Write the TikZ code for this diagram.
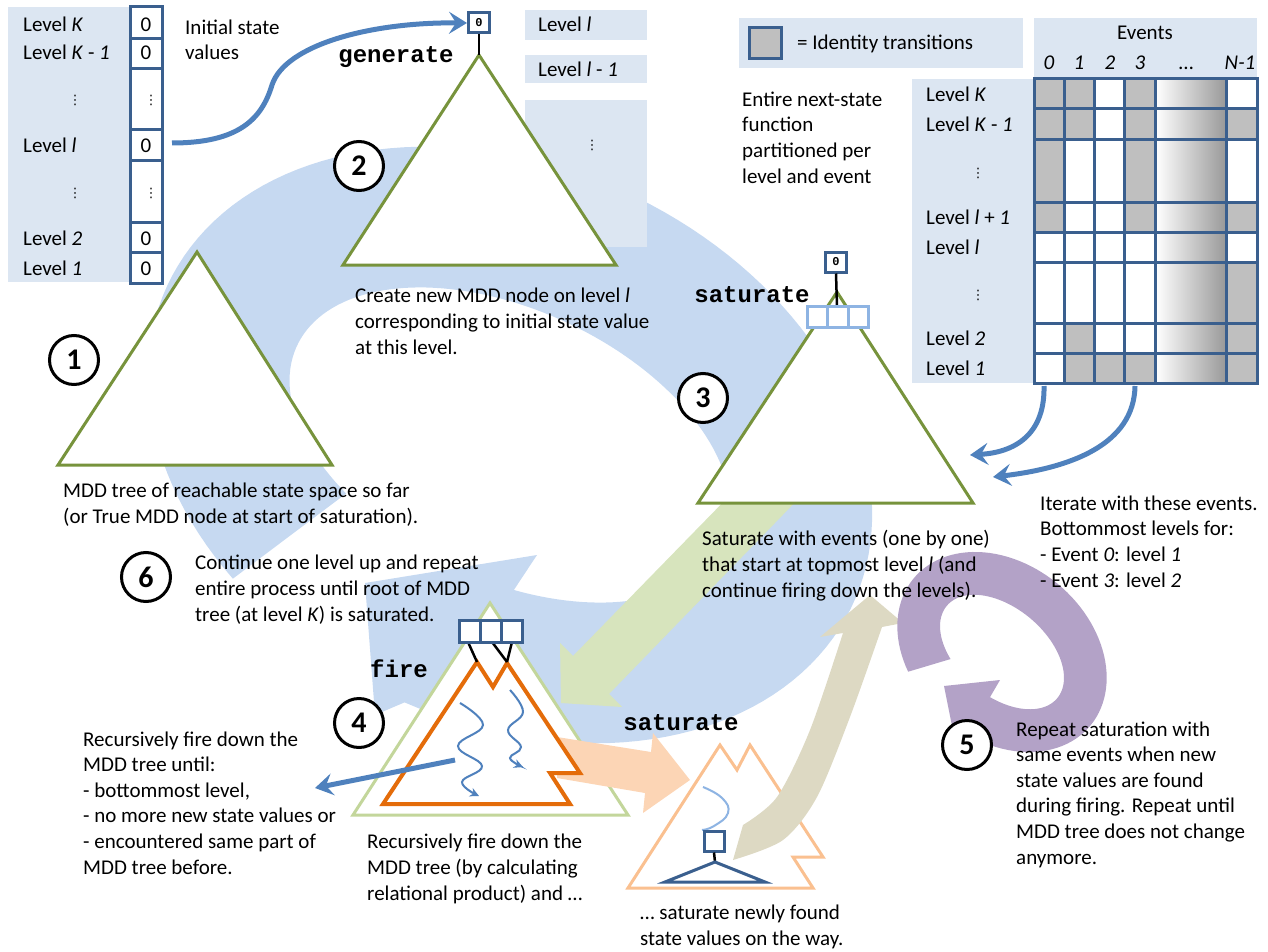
\documentclass[tikz,border=0pt]{standalone}
\usepackage{fontspec}
\setmainfont{Carlito}
\newfontfamily\codefont{Liberation Mono}
\newfontfamily\dotsfont{DejaVu Sans}
\usetikzlibrary{arrows.meta}

\definecolor{ringblue}{HTML}{C6D9F1}
\definecolor{panel}{HTML}{DCE6F2}
\definecolor{boxblue}{HTML}{3A5F8E}
\definecolor{arrowblue}{HTML}{4F81BD}
\definecolor{treegreen}{HTML}{77933C}
\definecolor{palegreen}{HTML}{C3D69B}
\definecolor{arrowgreen}{HTML}{D7E4BD}
\definecolor{fireorange}{HTML}{E46C0A}
\definecolor{lightorange}{HTML}{FAC090}
\definecolor{peach}{HTML}{FCD5B5}
\definecolor{tanc}{HTML}{DDD9C3}
\definecolor{lilac}{HTML}{B3A2C7}
\definecolor{cellblue}{HTML}{8EB4E3}
\definecolor{idgray}{HTML}{BFBFBF}

\begin{document}
\begin{tikzpicture}[x=1pt,y=-1pt,
  % multi-line texts are anchored at the baseline of their last line
  txt/.style={font=\fontsize{21}{25.6}\selectfont, align=left, inner sep=0pt, anchor=base west},
  lbl/.style={font=\fontsize{21}{24}\selectfont, inner sep=0pt, anchor=base west},
  val/.style={font=\fontsize{21}{24}\selectfont, inner sep=0pt, anchor=base},
  vdot/.style={font=\dotsfont\fontsize{13}{13}\selectfont, inner sep=0pt},
  codelbl/.style={font=\codefont\bfseries\fontsize{24}{24}\selectfont, inner sep=0pt},
  stepnum/.style={circle, draw=black, line width=3pt, fill=white, minimum size=49pt, inner sep=0pt, font=\bfseries\fontsize{30}{30}\selectfont},
  tree/.style={draw=treegreen, line width=3pt, fill=white, line join=miter},
  valbox/.style={draw=boxblue, line width=3pt, fill=white, minimum width=21pt, minimum height=20pt, inner sep=0pt, font=\codefont\bfseries\fontsize{12}{12}\selectfont},
  flow/.style={arrowblue, line width=5pt, -{Stealth[length=18pt,width=22pt,inset=7pt]}},
  squig/.style={arrowblue, line width=2pt, -{Stealth[length=9pt,width=9pt,inset=3pt]}},
  grid/.style={boxblue, line width=3pt},
]
\useasboundingbox (0,0) rectangle (1268,952);

% ---- big circular arrow of the whole saturation loop ----
\fill[ringblue]
  plot[domain=121:448, samples=140]
    ({510+378*cos(\x)*cos(25)-278*sin(\x)*sin(25)},{445+378*cos(\x)*sin(25)+278*sin(\x)*cos(25)})
  -- (375,715) -- (365,583) -- (537,555)
  -- plot[domain=123:434, samples=140]
    ({510+235*cos(557-\x)*cos(25)-135*sin(557-\x)*sin(25)},{445+235*cos(557-\x)*sin(25)+135*sin(557-\x)*cos(25)})
  -- cycle;

% ---- level list with initial state values ----
\fill[panel] (8,7) rectangle (162,282);
\draw[grid, fill=white] (130,7) rectangle (162,283);
\foreach \yy in {39,69,130,161,222,252} \draw[grid] (130,\yy) -- (162,\yy);
\node[lbl] (lvK)  at (23,32)  {Level \textit{K}};
\node[lbl] (lvK1) at (23,60)  {Level \textit{K} - \textit{1}};
\node[vdot] (lvd1) at (75,100) {⋮};
\node[lbl] (lvl)  at (23,153) {Level \textit{l}};
\node[vdot] (lvd2) at (75,193) {⋮};
\node[lbl] (lv2)  at (23,245) {Level \textit{2}};
\node[lbl] (lv1)  at (23,275) {Level \textit{1}};
\node[val] (vK)  at (146,32)  {0};
\node[val] (vK1) at (146,60)  {0};
\node[vdot] (vd1) at (151,100) {⋮};
\node[val] (vl)  at (146,153) {0};
\node[vdot] (vd2) at (151,193) {⋮};
\node[val] (v2)  at (146,245) {0};
\node[val] (v1)  at (146,275) {0};
\node[txt] (init) at (185,60) {Initial state\\values};

% ---- level panels beside the generated node ----
\fill[panel] (525,10) rectangle (647,40);
\fill[panel] (525,55) rectangle (647,83);
\fill[panel] (525,100) rectangle (647,247);
\node[lbl] (pl)  at (538,32) {Level \textit{l}};
\node[lbl] (pl1) at (538,77) {Level \textit{l} - \textit{1}};
\node[vdot] (pld) at (592,145) {⋮};

% ---- next-state function table ----
\fill[panel] (739,18) rectangle (1023,68);
\draw[grid, fill=idgray] (749,28) rectangle (781,59);
\node[lbl] (legend) at (797,50) {= Identity transitions};
\fill[panel] (1034,18) rectangle (1257,79);
\fill[panel] (912,79) rectangle (1034,383);
\node[val] (events) at (1145,40) {Events};
\node[val] (e0) at (1049,70) {\textit{0}};
\node[val] (e1) at (1079,70) {\textit{1}};
\node[val] (e2) at (1110,70) {\textit{2}};
\node[val] (e3) at (1140,70) {\textit{3}};
\node[val] (edots) at (1186,70) {\dots};
\node[val] (eN) at (1240,70) {\textit{N-1}};
\node[lbl] (rK)  at (926,102) {Level \textit{K}};
\node[lbl] (rK1) at (926,132) {Level \textit{K} - \textit{1}};
\node[vdot] (rd1) at (978,173) {⋮};
\node[lbl] (rl1) at (926,224) {Level \textit{l} + \textit{1}};
\node[lbl] (rl)  at (926,254) {Level \textit{l}};
\node[vdot] (rd2) at (978,295) {⋮};
\node[lbl] (r2)  at (926,345) {Level \textit{2}};
\node[lbl] (r1)  at (926,375) {Level \textit{1}};
\fill[white] (1034,79) rectangle (1257,383);
\foreach \c/\r in {0/0,1/0,3/0, 0/1,1/1,3/1,5/1, 0/2,3/2, 0/3,3/3,5/3, 5/5, 1/6,5/6, 1/7,2/7,3/7,5/7}{
  \pgfmathsetmacro\xa{{1034,1064,1094.5,1124.6,1155.5,1226,1257}[\c]}
  \pgfmathsetmacro\xb{{1034,1064,1094.5,1124.6,1155.5,1226,1257}[\c+1]}
  \pgfmathsetmacro\ya{{79,109,140,202,232,262,323,353,383}[\r]}
  \pgfmathsetmacro\yb{{79,109,140,202,232,262,323,353,383}[\r+1]}
  \fill[idgray] (\xa,\ya) rectangle (\xb,\yb);
}
\shade[left color=white, right color=black!40] (1155.5,79) rectangle (1226,383);
\draw[grid] (1034,79) rectangle (1257,383);
\foreach \xx in {1064,1094.5,1124.6,1155.5,1226} \draw[grid] (\xx,79) -- (\xx,383);
\foreach \yy in {109,140,202,232,262,323,353} \draw[grid] (1034,\yy) -- (1257,\yy);
\node[txt] (entire) at (742,183) {Entire next-state\\function\\partitioned per\\level and event};

% ---- green arrow: saturate hands over to fire ----
\fill[arrowgreen] (735,490) -- (573,656) -- (560,643) -- (561,703) -- (622,707) -- (609,694) -- (807,490) -- cycle;

% ---- step 1: current MDD ----
\draw[tree] (197,252) -- (332,465) -- (58,465) -- cycle;

% ---- step 2: generate ----
\draw[tree] (479,55) -- (616,265) -- (343,265) -- cycle;
\coordinate (apex2) at (479,55);
\node[valbox] (gen0) at (479,23) {0};
\draw[line width=2.5pt] (gen0.south) -- (apex2);
\node[codelbl] (gen) at (396,57) {generate};

% ---- step 3: saturate ----
\draw[tree] (837,292) -- (973,503) -- (698,503) -- cycle;
\node[valbox] (sat0) at (836,262) {0};
\coordinate (sattop) at (837,307);
\draw[line width=2.5pt] (sat0.south) -- (sattop);
\draw[cellblue, line width=3pt, fill=white] (807,306) rectangle (868,327);
\draw[cellblue, line width=3pt] (827,306) -- (827,327) (848,306) -- (848,327);
\node[codelbl] (sat) at (752,295) {saturate};

% ---- step 4: fire ----
\draw[palegreen, line width=3pt, fill=white, line join=miter] (490,603) -- (628,815) -- (353,815) -- cycle;
\fill[peach] (557,737) -- (651,752) -- (653,733) -- (690,780) -- (643,813) -- (645,793) -- (557,778) -- cycle;
\draw[fireorange, line width=4pt, fill=white, line join=miter]
  (383,804) -- (477,662) -- (493,687) -- (507,663) -- (580,773) -- (550,773) -- (570,804) -- cycle;
\draw[squig] plot[smooth, tension=0.7] coordinates {(460,703) (483,725) (458,746) (482,766) (462,782) (479,796)};
\draw[squig] plot[smooth, tension=0.7] coordinates {(510,690) (523,712) (508,730) (521,747) (510,758) (523,767)};
\coordinate (peakL) at (477,662);
\coordinate (peakR) at (507,662);
\draw[line width=2.5pt] (468,642) -- (peakL) (492,642) -- (peakR) (512,642) -- (peakR);
\draw[boxblue, line width=3pt, fill=white] (459,620) rectangle (522,642);
\draw[boxblue, line width=3pt] (480,620) -- (480,642) (501,620) -- (501,642);
\node[codelbl] (fire) at (399,669) {fire};

% ---- saturation of newly found values ----
\draw[lightorange, line width=3pt, fill=white, line join=miter]
  (628,888) -- (720,745) -- (737,770) -- (750,745) -- (823,857) -- (793,857) -- (813,888) -- cycle;
\draw[cellblue, line width=2pt] plot[smooth, tension=0.8] coordinates {(703,787) (722,798) (728,813) (714,826) (702,830)};
\node[draw=boxblue, line width=3pt, fill=white, minimum width=20pt, minimum height=20pt, inner sep=0pt] (newnode) at (714,841) {};
\coordinate (subtop) at (715,862);
\draw[line width=2.5pt] (newnode.south) -- (subtop);
\draw[boxblue, line width=3pt, line join=miter] (subtop) -- (765,882) -- (665,882) -- cycle;
\node[codelbl] (sat2) at (681,723) {saturate};
\fill[tanc] plot[smooth] coordinates {(743,825) (777,797) (810,730) (843,633)}
  -- (820,637) -- (870,595) -- (903,623) -- (882,627)
  -- plot[smooth] coordinates {(882,627) (850,717) (817,797) (783,840) (733,860)} -- cycle;

% ---- step 5: repeat loop ----
\fill[lilac]
  plot[domain=121:440, samples=100]
    ({1002+115*cos(\x)*cos(40)-88*sin(\x)*sin(40)},{652+115*cos(\x)*sin(40)+88*sin(\x)*cos(40)})
  -- (955,741) -- (944,686) -- (1000,680)
  -- plot[domain=119:434, samples=100]
    ({1002+72*cos(553-\x)*cos(40)-44*sin(553-\x)*sin(40)},{652+72*cos(553-\x)*sin(40)+44*sin(553-\x)*cos(40)})
  -- cycle;

% ---- step markers ----
\node[stepnum] (s1) at (74,360) {1};
\node[stepnum] (s2) at (359,166) {2};
\node[stepnum] (s3) at (703,398) {3};
\node[stepnum] (s4) at (359,723) {4};
\node[stepnum] (s5) at (967,745) {5};
\node[stepnum] (s6) at (146,577) {6};

% ---- descriptions ----
\node[txt] (create) at (355,354) {Create new MDD node on level \textit{l}\\corresponding to initial state value\\at this level.};
\node[txt] (mdd) at (63,523) {MDD tree of reachable state space so far\\(or True MDD node at start of saturation).};
\node[txt] (cont) at (195,621) {Continue one level up and repeat\\entire process until root of MDD\\tree (at level \textit{K}) is saturated.};
\node[txt] (satdesc) at (702,597) {Saturate with events (one by one)\\that start at topmost level \textit{l} (and\\continue firing down the levels).};
\node[txt] (iter) at (1040,587) {Iterate with these events.\\Bottommost levels for:\\- Event \textit{0}: level \textit{1}\\- Event \textit{3}: level \textit{2}};
\node[txt] (rep) at (1016,864) {Repeat saturation with\\same events when new\\state values are found\\during firing. Repeat until\\MDD tree does not change\\anymore.};
\node[txt] (recl) at (83,874) {Recursively fire down the\\MDD tree until:\\- bottommost level,\\- no more new state values or\\- encountered same part of\\MDD tree before.};
\node[txt] (recm) at (367,900) {Recursively fire down the\\MDD tree (by calculating\\relational product) and \dots};
\node[txt] (newf) at (640,945) {\dots\ saturate newly found\\state values on the way.};

% ---- connectors ----
\coordinate (initout) at (172,143);
\draw[flow] (initout) .. controls (240,143) and (262,118) .. (272,85)
  .. controls (285,45) and (370,22) .. (gen0.west);
\coordinate (ev0) at (1044,386);
\coordinate (ev3) at (1135,386);
\coordinate (tri3a) at (970,455);
\coordinate (tri3b) at (993,477);
\draw[flow] (ev0) .. controls (1045,430) and (1020,452) .. (tri3a);
\draw[flow] (ev3) .. controls (1134,445) and (1070,468) .. (tri3b);
\coordinate (firein) at (455,760);
\coordinate (recout) at (315,788);
\draw[flow] (firein) -- (recout);
\end{tikzpicture}
\end{document}
